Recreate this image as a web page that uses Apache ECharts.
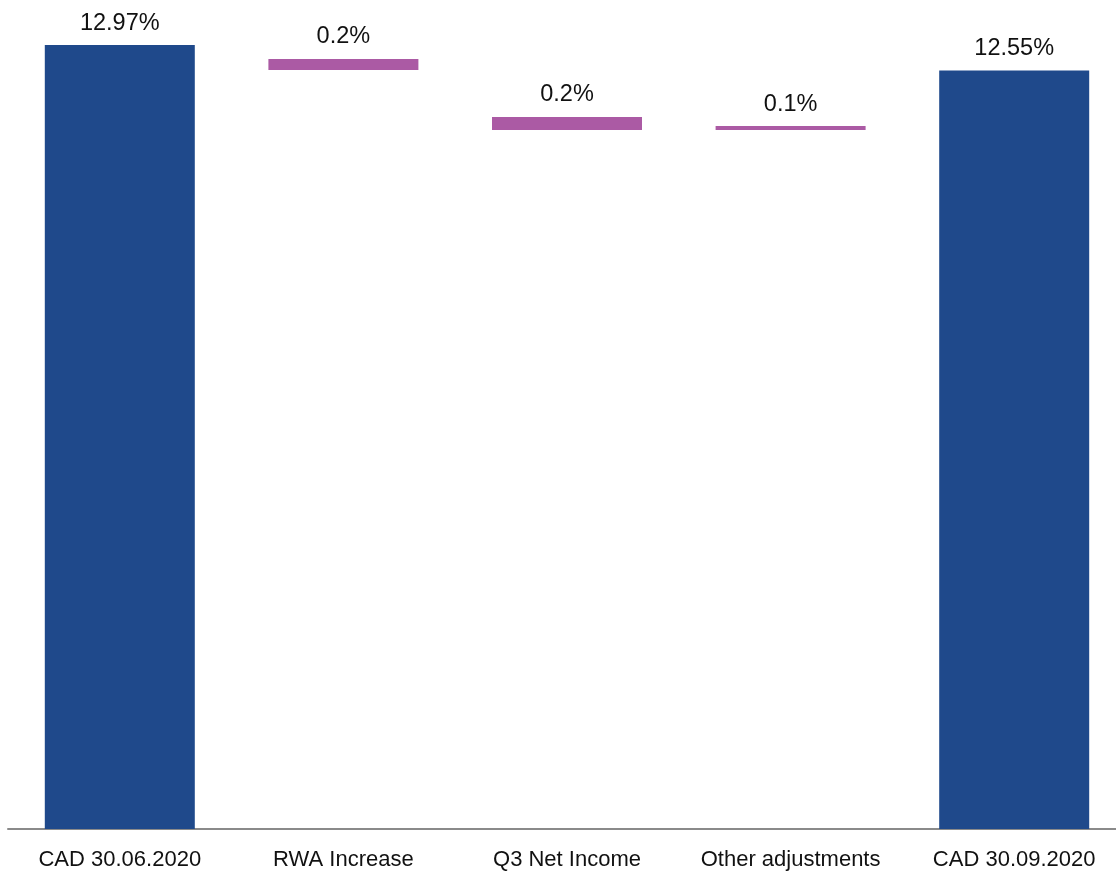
<!DOCTYPE html>
<html>
<head>
<meta charset="utf-8">
<style>
html,body{margin:0;padding:0;background:#fff;}
#chart{width:1116px;height:871px;}
</style>
<script src="https://cdn.jsdelivr.net/npm/echarts@6/dist/echarts.min.js"></script>
</head>
<body>
<div id="chart"></div>
<script>
const categories = ["CAD 30.06.2020", "RWA Increase", "Q3 Net Income", "Other adjustments", "CAD 30.09.2020"];
const baseValues = [0, 12.555, 11.565, 11.565, 0];
const changeValues = [12.97, 0.185, 0.215, 0.065, 12.55];
const valueLabels = ["12.97%", "0.2%", "0.2%", "0.1%", "12.55%"];
const barColors = ["#1F498B", "#AB5AA4", "#AB5AA4", "#AB5AA4", "#1F498B"];

const chart = echarts.init(document.getElementById('chart'), null, {renderer: 'canvas'});
chart.setOption({
  animation: false,
  backgroundColor: '#ffffff',
  grid: {left: 8, right: -10, top: 13, bottom: 42, containLabel: false, outerBoundsMode: 'none'},
  xAxis: {
    type: 'category',
    data: categories,
    axisLine: {show: true, lineStyle: {color: '#8a8a8a', width: 2}},
    axisTick: {show: false},
    axisLabel: {
      margin: 20, fontSize: 22, color: '#111111',
      fontFamily: '"Liberation Sans", Arial, sans-serif', interval: 0
    }
  },
  yAxis: {
    type: 'value', min: 0, max: 13.5,
    show: false, splitLine: {show: false}
  },
  series: [
    {
      type: 'bar', stack: 'w', barWidth: 150,
      data: baseValues,
      itemStyle: {color: 'transparent'},
      emphasis: {disabled: true},
      silent: true
    },
    {
      type: 'bar', stack: 'w', barWidth: 150,
      data: changeValues.map((v, i) => ({value: v, itemStyle: {color: barColors[i]}})),
      label: {
        show: true, position: 'top', distance: 10,
        fontSize: 23.5, color: '#111111',
        fontFamily: '"Liberation Sans", Arial, sans-serif',
        formatter: p => valueLabels[p.dataIndex]
      }
    }
  ]
});
</script>
</body>
</html>
